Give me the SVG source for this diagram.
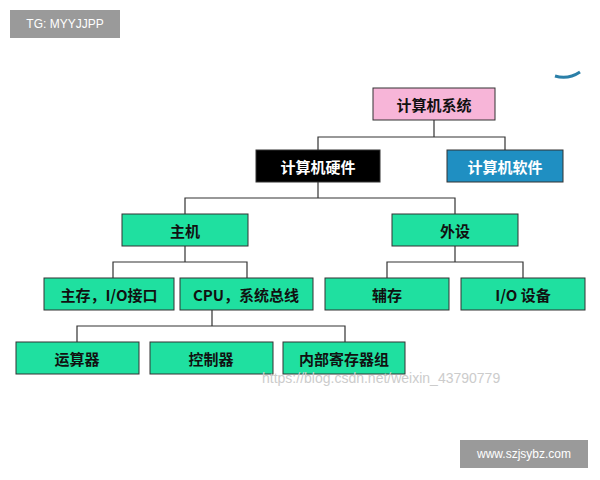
<svg xmlns="http://www.w3.org/2000/svg" width="600" height="480" viewBox="0 0 600 480">
<style>
.n{stroke:#333;stroke-width:1}
.g{fill:#1fe0a0}
.t{font-family:"Noto Sans CJK SC","Liberation Sans",sans-serif;font-size:15px;font-weight:bold;text-anchor:middle;dominant-baseline:central;fill:#111}
.c{fill:none;stroke:#333;stroke-width:1.2}
</style>
<rect width="600" height="480" fill="#fff"/>
<g id="wm1"><rect x="10" y="10" width="110" height="28" fill="#9a9a9a"/><text x="65" y="24" font-family="Liberation Sans,sans-serif" font-size="12" fill="#fff" text-anchor="middle" dominant-baseline="central">TG: MYYJJPP</text></g>
<path d="M555 76 Q568 80 580 72" stroke="#2a7fa8" stroke-width="3" fill="none"/>
<g id="connectors">
<path class="c" d="M434 120V137M318 150V137H505V150"/>
<path class="c" d="M318 182V198M185 214V198H455V214"/>
<path class="c" d="M185 246V262M113 278V262H247V278"/>
<path class="c" d="M455 246V262M387 278V262H523V278"/>
<path class="c" d="M212 310V326M77 342V326H345V342"/>
</g>
<g id="sys"><rect class="n" x="373" y="88" width="122" height="32" fill="#f7b5d8"/><text class="t" x="434" y="104">计算机系统</text></g>
<g id="hw"><rect class="n" x="256" y="150" width="124" height="32" fill="#000"/><text class="t" x="318" y="166" fill="#fff" style="fill:#fff">计算机硬件</text></g>
<g id="sw"><rect class="n" x="447" y="150" width="116" height="32" fill="#1f8fc2"/><text class="t" x="505" y="166" style="fill:#fff">计算机软件</text></g>
<g id="host"><rect class="n g" x="122" y="214" width="126" height="32"/><text class="t" x="185" y="230">主机</text></g>
<g id="peri"><rect class="n g" x="392" y="214" width="126" height="32"/><text class="t" x="455" y="230">外设</text></g>
<g id="mem"><rect class="n g" x="44" y="278" width="130" height="32"/><text class="t" x="109" y="294">主存，I/O接口</text></g>
<g id="cpu"><rect class="n g" x="180" y="278" width="133" height="32"/><text class="t" x="246" y="294">CPU，系统总线</text></g>
<g id="aux"><rect class="n g" x="325" y="278" width="124" height="32"/><text class="t" x="387" y="294">辅存</text></g>
<g id="io"><rect class="n g" x="461" y="278" width="124" height="32"/><text class="t" x="523" y="294">I/O 设备</text></g>
<g id="alu"><rect class="n g" x="16" y="342" width="123" height="32"/><text class="t" x="77" y="358">运算器</text></g>
<g id="ctl"><rect class="n g" x="150" y="342" width="123" height="32"/><text class="t" x="211" y="358">控制器</text></g>
<g id="reg"><rect class="n g" x="283" y="342" width="122" height="32"/><text class="t" x="344" y="358">内部寄存器组</text></g>
<text x="262" y="383" font-family="Liberation Sans,sans-serif" font-size="14" fill="#ccc">https://blog.csdn.net/weixin_43790779</text>
<g id="wm2"><rect x="460" y="440" width="128" height="28" fill="#9a9a9a"/><text x="524" y="454" font-family="Liberation Sans,sans-serif" font-size="12" fill="#fff" text-anchor="middle" dominant-baseline="central">www.szjsybz.com</text></g>
</svg>
